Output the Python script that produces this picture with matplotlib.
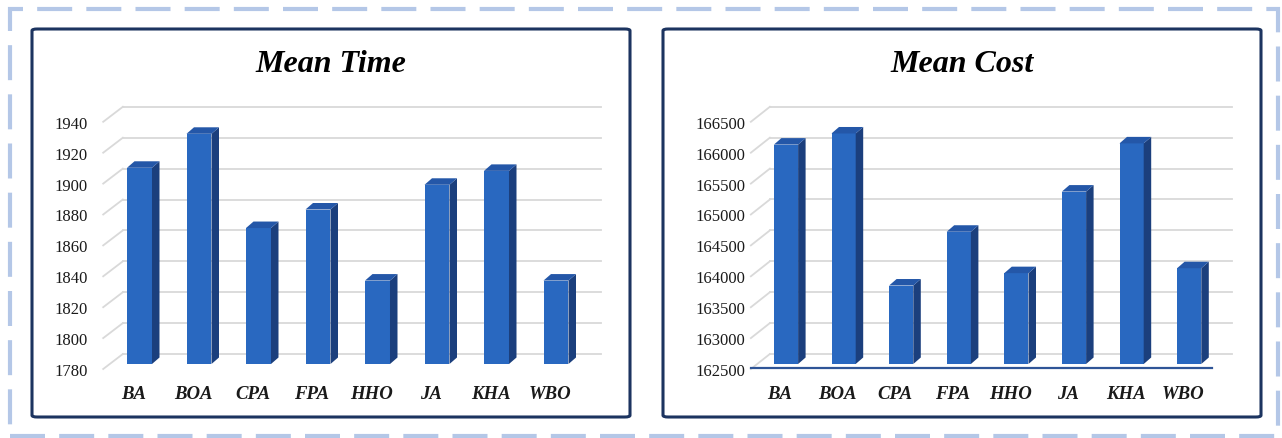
import matplotlib
matplotlib.use("Agg")
import matplotlib.pyplot as plt
from matplotlib.patches import Polygon, FancyBboxPatch, Rectangle
from matplotlib.transforms import ScaledTranslation

# data
algorithms = ["BA", "BOA", "CPA", "FPA", "HHO", "JA", "KHA", "WBO"]
mean_time = [1907, 1929, 1868, 1880, 1834, 1896, 1905, 1834]
mean_cost = [166050, 166230, 163770, 164640, 163970, 165290, 166070, 164050]
time_ticks = [1780, 1800, 1820, 1840, 1860, 1880, 1900, 1920, 1940]
cost_ticks = [162500, 163000, 163500, 164000, 164500, 165000, 165500, 166000, 166500]

W, H = 1282, 439
DPI = 100
FRONT = "#2968c0"
TOP = "#2457a8"
SIDE = "#1b3f7d"
GRID = "#d9d9d9"
NAVY = "#1c3460"
SERIF = ["Liberation Serif", "DejaVu Serif"]

fig = plt.figure(figsize=(W / DPI, H / DPI), dpi=DPI)


def px_box(x0, y0, x1, y1):
    # pixel box (top-left origin) -> figure fraction rect
    return [x0 / W, 1 - y1 / H, (x1 - x0) / W, (y1 - y0) / H]


def shift(ax, dx, dy):
    return ax.transData + ScaledTranslation(dx / DPI, dy / DPI, fig.dpi_scale_trans)


def draw_panel(ax, values, ticks, ax_px, label_pad, axis_line=False):
    x0, y0, x1, y1 = ax_px
    n = len(values)
    ax.set_xlim(-0.5, n - 0.5)
    ax.set_ylim(ticks[0], ticks[-1])
    ux = n / (x1 - x0)                            # data x per pixel
    uy = (ticks[-1] - ticks[0]) / (y1 - y0)       # data y per pixel

    # back wall gridlines and floor diagonals
    for t in ticks:
        ax.plot([-0.28, n - 0.25], [t, t], color=GRID, lw=1.3,
                transform=shift(ax, 0, 10), clip_on=False, zorder=1)
        ax.plot([-0.61, -0.28], [t - 5 * uy, t + 10 * uy],
                color=GRID, lw=1.3, clip_on=False, zorder=1)

    # bars with fake depth
    bw = 0.42
    dx, dy = 7.5 * ux, 6.5 * uy
    base = ticks[0]
    ax.bar(range(n), [v - base for v in values], bottom=base, width=bw,
           color=FRONT, zorder=3)
    for i, v in enumerate(values):
        xl, xr = i - bw / 2, i + bw / 2
        ax.add_patch(Polygon([(xr, base), (xr + dx, base + dy),
                              (xr + dx, v + dy), (xr, v)],
                             closed=True, color=SIDE, zorder=3, lw=0))
        ax.add_patch(Polygon([(xl, v), (xl + dx, v + dy),
                              (xr + dx, v + dy), (xr, v)],
                             closed=True, color=TOP, zorder=3, lw=0))

    if axis_line:
        ax.plot([-0.61, n - 0.6], [base - 4 * uy, base - 4 * uy],
                color="#2f5597", lw=1.6, clip_on=False, zorder=2)

    ax.set_yticks(ticks)
    ax.set_yticklabels([str(t) for t in ticks], family=SERIF, fontsize=12,
                       color="#1a1a1a")
    ax.tick_params(axis="y", length=0, pad=label_pad)
    for lab in ax.get_yticklabels():
        lab.set_transform(lab.get_transform() +
                          ScaledTranslation(0, -5 / DPI, fig.dpi_scale_trans))
    ax.set_xticks(range(n))
    ax.set_xticklabels(algorithms, family=SERIF, fontsize=13.5,
                       style="italic", weight="bold", color="#1a1a1a")
    ax.tick_params(axis="x", length=0, pad=15)
    for lab in ax.get_xticklabels():
        lab.set_transform(lab.get_transform() +
                          ScaledTranslation(-6 / DPI, 0, fig.dpi_scale_trans))
    for s in ax.spines.values():
        s.set_visible(False)
    ax.set_facecolor("none")
    return ax


# outer dashed frame
fig.add_artist(Rectangle((9.5 / W, 1 - 437 / H), (1278 - 9.5) / W, (437 - 9.5) / H,
                         transform=fig.transFigure, fill=False, ec="#b4c7e7",
                         lw=3, linestyle=(0, (8.4, 3.4))))

# panel frames and titles
for (px0, px1), title in [((32, 630), "Mean Time"), ((663, 1261), "Mean Cost")]:
    fig.add_artist(FancyBboxPatch((px0 / W, 1 - 418 / H), (px1 - px0) / W, (418 - 30) / H,
                                  boxstyle="round,pad=0,rounding_size=0.004",
                                  transform=fig.transFigure, fill=False,
                                  ec=NAVY, lw=2.2))
    fig.text((px0 + px1) / 2 / W, 1 - 65 / H, title, ha="center", va="center",
             family=SERIF, fontsize=23, style="italic", weight="bold")

ax1 = fig.add_axes(px_box(109.75, 117.8, 585.75, 365))
draw_panel(ax1, mean_time, time_ticks, (109.75, 117.8, 585.75, 365), 16)

ax2 = fig.add_axes(px_box(757.2, 117.8, 1218.0, 365))
draw_panel(ax2, mean_cost, cost_ticks, (757.2, 117.8, 1218.0, 365), 8.5,
           axis_line=True)

fig.savefig("out.png", dpi=DPI)
